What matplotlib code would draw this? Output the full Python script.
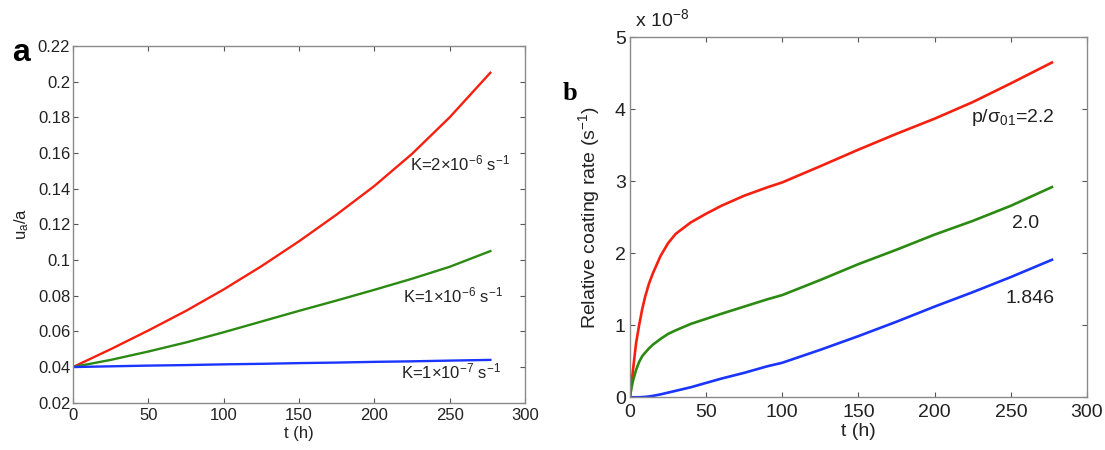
import matplotlib
matplotlib.use("Agg")
import matplotlib.pyplot as plt

plt.rcParams['font.family'] = ['Liberation Sans', 'DejaVu Sans']
plt.rcParams['mathtext.fontset'] = 'custom'
plt.rcParams['mathtext.rm'] = 'Liberation Sans'
plt.rcParams['mathtext.it'] = 'Liberation Sans'

# ---- Panel a data ----
t_a = [0, 25, 50, 75, 100, 125, 150, 175, 200, 225, 250, 277]
u_K2e6 = [0.040, 0.050, 0.0605, 0.0715, 0.0835, 0.0965, 0.1105, 0.1255, 0.1415, 0.1595, 0.1800, 0.205]
u_K1e6 = [0.040, 0.044, 0.0487, 0.0538, 0.0595, 0.0655, 0.0715, 0.0773, 0.0833, 0.0895, 0.0962, 0.105]
u_K1e7 = [0.040, 0.0404, 0.0408, 0.0411, 0.0415, 0.0418, 0.0422, 0.0425, 0.0429, 0.0432, 0.0436, 0.0440]
labels_a = ["K=2×10$^{-6}$ s$^{-1}$", "K=1×10$^{-6}$ s$^{-1}$", "K=1×10$^{-7}$ s$^{-1}$"]
xticks_a = [0, 50, 100, 150, 200, 250, 300]
yticks_a = [0.02, 0.04, 0.06, 0.08, 0.1, 0.12, 0.14, 0.16, 0.18, 0.2, 0.22]
yticklabels_a = ["0.02", "0.04", "0.06", "0.08", "0.1", "0.12", "0.14", "0.16", "0.18", "0.2", "0.22"]

# ---- Panel b data (units of 1e-8 s^-1) ----
t_b = [0, 1, 2, 4, 6, 8, 10, 12.5, 15, 20, 25, 30, 40, 50, 60, 75, 90, 100,
       125, 150, 175, 200, 225, 250, 277]
rate_22 = [0, 0.20, 0.38, 0.75, 1.00, 1.22, 1.40, 1.58, 1.72, 1.96, 2.14, 2.27, 2.43, 2.55,
           2.66, 2.80, 2.915, 2.985, 3.21, 3.44, 3.66, 3.87, 4.10, 4.36, 4.65]
rate_20 = [0, 0.13, 0.23, 0.38, 0.49, 0.57, 0.62, 0.68, 0.73, 0.81, 0.88, 0.93, 1.02, 1.09,
           1.16, 1.26, 1.36, 1.42, 1.63, 1.85, 2.05, 2.26, 2.45, 2.66, 2.92]
rate_1846 = [0, 0, 0, 0, 0.001, 0.003, 0.006, 0.012, 0.02, 0.04, 0.065, 0.09, 0.14, 0.20,
             0.26, 0.34, 0.43, 0.48, 0.66, 0.85, 1.05, 1.26, 1.46, 1.67, 1.91]
labels_b = ["p/σ$_{01}$=2.2", "2.0", "1.846"]
xticks_b = [0, 50, 100, 150, 200, 250, 300]
yticks_b = [0, 1, 2, 3, 4, 5]

red = '#f5200f'
green = '#2b8a12'
blue = '#1a35ff'
spine_col = '#8a8a8a'
txt = '#222222'

fig = plt.figure(figsize=(11.05, 4.5), dpi=100)

def style(ax, fs):
    for s in ax.spines.values():
        s.set_color(spine_col)
        s.set_linewidth(1.0)
    ax.tick_params(direction='in', top=True, right=True, length=3.5, width=0.8,
                   color='#555555', labelsize=fs, pad=2, labelcolor=txt)

# Panel a
fa = 12
axa = fig.add_axes([0.0661, 0.1051, 0.4090, 0.7927])
axa.plot(t_a, u_K2e6, color=red, lw=1.7)
axa.plot(t_a, u_K1e6, color=green, lw=1.7)
axa.plot(t_a, u_K1e7, color=blue, lw=1.7)
axa.set_xlim(0, 300)
axa.set_ylim(0.02, 0.22)
axa.set_xticks(xticks_a)
axa.set_yticks(yticks_a)
axa.set_yticklabels(yticklabels_a)
style(axa, fa)
axa.tick_params(axis='x', pad=4)
axa.set_xlabel("t (h)", fontsize=fa, labelpad=2, color=txt)
axa.set_ylabel("u$_a$/a", fontsize=fa, labelpad=5, color=txt)
axa.text(224, 0.154, labels_a[0], fontsize=fa, va='center', ha='left', color=txt)
axa.text(219, 0.080, labels_a[1], fontsize=fa, va='center', ha='left', color=txt)
axa.text(218, 0.0374, labels_a[2], fontsize=fa, va='center', ha='left', color=txt)
fig.text(0.011, 1 - 61 / 450, "a", fontsize=23, fontweight='bold', va='baseline',
         family='Liberation Sans')

# Panel b
fb = 14
axb = fig.add_axes([0.5701, 0.1171, 0.4136, 0.8000])
axb.plot(t_b, rate_22, color=red, lw=1.9)
axb.plot(t_b, rate_20, color=green, lw=1.9)
axb.plot(t_b, rate_1846, color=blue, lw=1.9)
axb.set_xlim(0, 300)
axb.set_ylim(0, 5)
axb.set_xticks(xticks_b)
axb.set_yticks(yticks_b)
style(axb, fb)
axb.tick_params(axis='x', pad=5)
axb.tick_params(axis='y', pad=3)
axb.set_xlabel("t (h)", fontsize=fb, labelpad=1, color=txt)
axb.set_ylabel("Relative coating rate (s$^{-1}$)", fontsize=fb, labelpad=9, color=txt)
axb.text(0.01, 1.02, "x 10$^{-8}$", transform=axb.transAxes, fontsize=fb,
         va='bottom', ha='left', color=txt)
axb.text(224, 3.88, labels_b[0], fontsize=fb, va='center', ha='left', color=txt)
axb.text(260, 2.42, labels_b[1], fontsize=fb, va='center', ha='center', color=txt)
axb.text(262.6, 1.37, labels_b[2], fontsize=fb, va='center', ha='center', color=txt)
fig.text(0.509, 1 - 100 / 450, "b", fontsize=19, fontweight='bold', va='baseline',
         family='Liberation Serif')

fig.savefig("out.png", dpi=100)
